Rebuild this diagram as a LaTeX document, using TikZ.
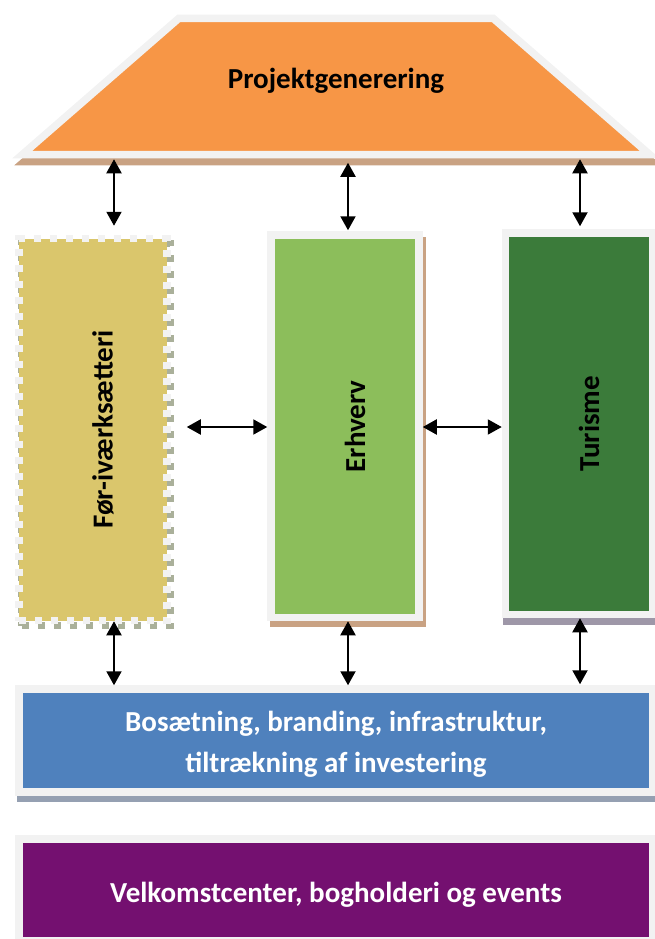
\documentclass[tikz,border=0pt]{standalone}
\usepackage{fontspec}
\setmainfont{Carlito}
\usetikzlibrary{arrows.meta,positioning,shapes.geometric,shadows}

\definecolor{rim}{HTML}{F2F2F2}
\definecolor{projorange}{HTML}{F79646}
\definecolor{fivyellow}{HTML}{DAC66C}
\definecolor{erhgreen}{HTML}{8CBE5B}
\definecolor{turgreen}{HTML}{3B7B3A}
\definecolor{bosblue}{HTML}{4F81BD}
\definecolor{velpurple}{HTML}{741070}
\definecolor{tanshadow}{HTML}{C9A283}
\definecolor{oliveshadow}{HTML}{AAB09A}
\definecolor{lilacshadow}{HTML}{9E97A8}
\definecolor{steelshadow}{HTML}{95A0B2}

\begin{document}
\begin{tikzpicture}[x=1pt, y=-1pt,
    block/.style={draw=rim, line width=7.5pt, inner sep=0pt},
    lbl/.style={font=\fontsize{29}{39}\selectfont\bfseries},
    vlbl/.style={lbl, rotate=90},
    link/.style={line width=2pt, {Triangle[width=15pt,length=14pt]}-{Triangle[width=15pt,length=14pt]}}]
    \useasboundingbox (0,0) rectangle (654,939);

    % Projektgenerering (top)
    \node[block, fill=projorange, trapezium, trapezium left angle=17.92, trapezium right angle=17.92,
          trapezium stretches=true, minimum width=630.8pt, minimum height=136pt,
          lbl, text width=218pt, align=center, text height=20pt, text depth=15pt,
          copy shadow={shadow xshift=2pt, shadow yshift=-7pt, draw=tanshadow, fill=tanshadow}]
          (proj) at (336,86.5) {Projektgenerering};

    % three columns
    \node[block, draw=rim, dash pattern=on 7pt off 9pt, fill=fivyellow, minimum width=148pt, minimum height=382pt,
          copy shadow={shadow xshift=3pt, shadow yshift=-5pt, draw=oliveshadow, fill=none}]
          (frv) at (93,429.5) {};
    \node[block, fill=erhgreen, minimum width=148pt, minimum height=382.5pt,
          copy shadow={shadow xshift=3pt, shadow yshift=-6pt, draw=tanshadow, fill=tanshadow}]
          (erh) at (345,426.25) {};
    \node[block, fill=turgreen, minimum width=147pt, minimum height=381.5pt,
          copy shadow={shadow xshift=1pt, shadow yshift=-7pt, draw=lilacshadow, fill=lilacshadow}]
          (tur) at (579,423.75) {};
    \node[vlbl] (frvtxt) at ([xshift=10pt]frv.center) {Før-iværksætteri};
    \node[vlbl] (erhtxt) at ([xshift=10pt]erh.center) {Erhverv};
    \node[vlbl] (turtxt) at ([xshift=10pt]tur.center) {Turisme};

    % bottom bars
    \node[block, fill=bosblue, minimum width=634pt, minimum height=103pt, lbl, text=white, align=center,
          copy shadow={shadow xshift=2pt, shadow yshift=-6pt, draw=steelshadow, fill=steelshadow}]
          (bos) at (336,740.5) {\rule{0pt}{28pt}Bosætning, branding, infrastruktur,\\[2pt]tiltrækning af investering};
    \node[block, fill=velpurple, minimum width=634pt, minimum height=102pt, lbl, text=white,
          text height=30pt, text depth=6pt]
          (vel) at (336,890) {Velkomstcenter, bogholderi og events};

    % arrows
    \coordinate (colL) at (114,0);
    \coordinate (colM) at (348,0);
    \coordinate (colR) at (580,0);
    \coordinate (rowH) at (0,427);
    \draw[link, shorten <=1pt, shorten >=9pt] (proj.south -| colL) -- (frv.north -| colL);
    \draw[link, shorten <=4.5pt, shorten >=1pt] (proj.south -| colM) -- (erh.north -| colM);
    \draw[link, shorten <=1pt, shorten >=3pt] (proj.south -| colR) -- (tur.north -| colR);
    \draw[link, shorten <=-3pt] (frv.south -| colL) -- (bos.north -| colL);
    \draw[link] (erh.south -| colM) -- (bos.north -| colM);
    \draw[link, shorten >=1pt] (tur.south -| colR) -- (bos.north -| colR);
    \draw[link, shorten <=16pt] (frv.east |- rowH) -- (erh.west |- rowH);
    \draw[link] (erh.east |- rowH) -- (tur.west |- rowH);
\end{tikzpicture}
\end{document}
